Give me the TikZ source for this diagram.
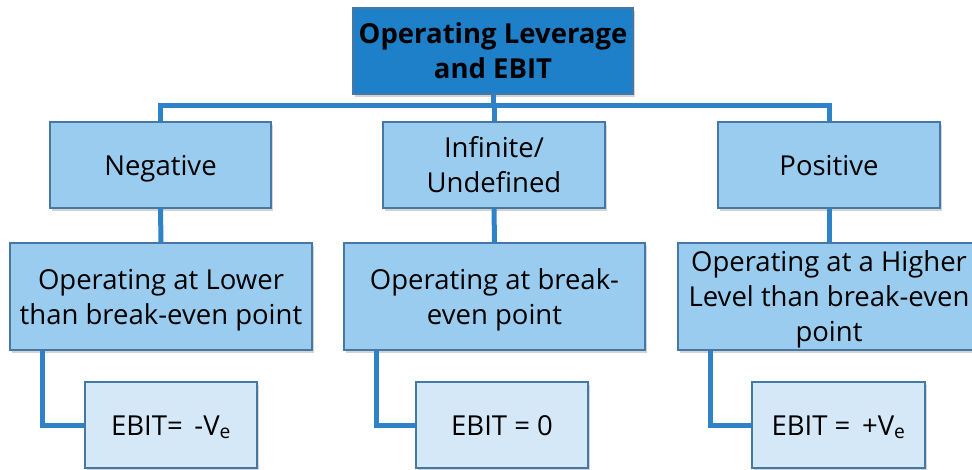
\documentclass[tikz,border=0pt]{standalone}
\usepackage{fontspec}
\setmainfont{Open Sans}
\usetikzlibrary{shadows}
\definecolor{topblue}{RGB}{30,128,200}
\definecolor{midblue}{RGB}{153,204,238}
\definecolor{lowblue}{RGB}{212,232,247}
\definecolor{edgeblue}{RGB}{70,120,165}
\definecolor{linkblue}{RGB}{46,131,200}
\tikzset{
  box/.style={draw=edgeblue, line width=1.2pt, rectangle, align=center, inner sep=2pt,
    text depth=0pt, text height=20pt,
    drop shadow={opacity=0.35, shadow xshift=1.5pt, shadow yshift=-2.5pt},
    font=\fontsize{27.5}{35}\selectfont},
  twolines/.style={text height=55pt},
  threelines/.style={text height=90pt},
  titlebox/.style={box, fill=topblue, font=\fontsize{27.5}{35}\selectfont\bfseries},
  midbox/.style={box, fill=midblue},
  lowbox/.style={box, fill=lowblue},
  link/.style={draw=linkblue, line width=5pt},
}
\begin{document}
\begin{tikzpicture}[x=1pt,y=-1pt]
\useasboundingbox (0,0) rectangle (972,469);
\coordinate (barY) at (0,105);
\coordinate (elbowL) at (42,0);
\coordinate (elbowM) at (376,0);
\coordinate (elbowR) at (710,0);
% boxes
\node[titlebox, twolines, minimum width=280pt, minimum height=86pt] (title) at (493,51) {Operating Leverage\\and EBIT};
\node[midbox, minimum width=221pt, minimum height=86pt] (neg) at (160.5,165) {Negative};
\node[midbox, twolines, minimum width=222pt, minimum height=86pt] (inf) at (494,165) {Infinite/\\Undefined};
\node[midbox, minimum width=222pt, minimum height=86pt] (pos) at (829,165) {Positive};
\node[midbox, twolines, minimum width=302pt, minimum height=107pt] (low) at (161,296.5) {Operating at Lower\\than break-even point};
\node[midbox, twolines, minimum width=301pt, minimum height=107pt] (at) at (494.5,296.5) {Operating at break-\\even point};
\node[midbox, threelines, minimum width=302pt, minimum height=107pt] (high) at (829,296.5) {Operating at a Higher\\Level than break-even\\point};
\node[lowbox, minimum width=172pt, minimum height=86pt] (e1) at (171,425) {EBIT= \,-V\textsubscript{e}};
\node[lowbox, minimum width=172pt, minimum height=86pt] (e2) at (502,425) {EBIT = 0};
\node[lowbox, minimum width=173pt, minimum height=86pt] (e3) at (838.5,425) {EBIT = \,+V\textsubscript{e}};
% connectors
\draw[link] (title.south) -- (title.south |- barY);
\draw[link] (neg.north) -- (neg.north |- barY) -- (pos.north |- barY) -- (pos.north);
\draw[link] (inf.north) -- (inf.north |- barY);
\draw[link] (neg.south) -- (low.north);
\draw[link] (inf.south) -- (at.north);
\draw[link] (pos.south) -- (high.north);
\draw[link] (low.south -| elbowL) |- (e1.west);
\draw[link] (at.south -| elbowM) |- (e2.west);
\draw[link] (high.south -| elbowR) |- (e3.west);
\end{tikzpicture}
\end{document}
